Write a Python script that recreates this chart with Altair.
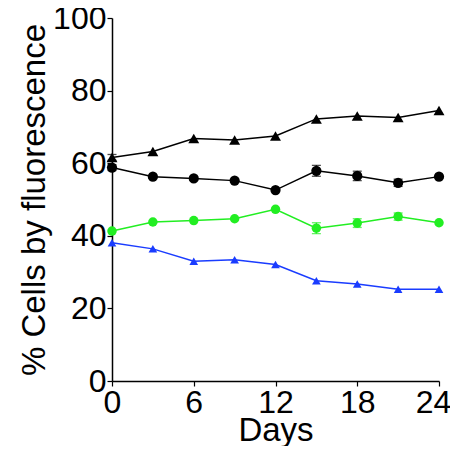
import altair as alt
import pandas as pd

days = [0, 3, 6, 9, 12, 15, 18, 21, 24]
black_tri = [61.6, 63.2, 66.8, 66.4, 67.5, 72.2, 73.0, 72.6, 74.5]
black_tri_err = [0.8, 0, 0, 0, 0, 0, 0, 0, 0]
black_circ = [58.8, 56.3, 55.8, 55.2, 52.6, 57.9, 56.5, 54.6, 56.3]
black_circ_err = [0.8, 0, 0, 0, 0, 1.5, 1.3, 1.0, 0]
green_circ = [41.3, 43.8, 44.2, 44.7, 47.3, 42.1, 43.5, 45.3, 43.6]
green_circ_err = [0, 0, 0, 0, 0, 1.5, 1.2, 1.0, 0]
blue_tri = [38.1, 36.4, 33.0, 33.4, 32.1, 27.6, 26.7, 25.3, 25.3]
blue_tri_err = [0, 0, 0, 0, 0, 0, 0, 0, 0]

series = ["A", "B", "C", "D"]
colors = ["#000000", "#000000", "#22EE22", "#1A3CFF"]
shapes = ["triangle-up", "circle", "circle", "triangle-up"]
sizes = [120, 75, 75, 120]

rows = []
for name, vals, errs in zip(series,
                            [black_tri, black_circ, green_circ, blue_tri],
                            [black_tri_err, black_circ_err, green_circ_err, blue_tri_err]):
    for d, v, e in zip(days, vals, errs):
        rows.append({"series": name, "day": d, "value": v, "err": e,
                     "lo": v - e, "hi": v + e})
df = pd.DataFrame(rows)

axis_style = dict(
    grid=False, domainColor="black", domainWidth=1.5,
    tickColor="black", tickWidth=1.2, tickSize=5,
    labelFont="Liberation Sans", titleFont="Liberation Sans",
    labelFontSize=32, titleFontSize=33,
    labelColor="black", titleColor="black",
    titleFontWeight="normal", labelPadding=1,
)

x = alt.X("day:Q", title="Days",
          scale=alt.Scale(domain=[0, 24], nice=False),
          axis=alt.Axis(values=[0, 6, 12, 18, 24], labelFlush=False,
                        labelOffset=alt.condition("datum.value == 24", alt.value(-6), alt.value(0)),
                        titlePadding=-4, **axis_style))
y = alt.Y("value:Q", title="% Cells by fluorescence",
          scale=alt.Scale(domain=[0, 100], nice=False),
          axis=alt.Axis(values=[0, 20, 40, 60, 80, 100], titlePadding=1, **axis_style))
color = alt.Color("series:N", scale=alt.Scale(domain=series, range=colors), legend=None)
shape = alt.Shape("series:N", scale=alt.Scale(domain=series, range=shapes), legend=None)
size = alt.Size("series:N", scale=alt.Scale(domain=series, range=sizes), legend=None)

base = alt.Chart(df)
lines = base.mark_line(strokeWidth=1.5).encode(x=x, y=y, color=color, detail="series:N")
errs = base.transform_filter("datum.err > 0").mark_rule(strokeWidth=1.3).encode(
    x="day:Q", y="lo:Q", y2="hi:Q", color=color)
cap_lo = base.transform_filter("datum.err > 0").mark_tick(
    orient="horizontal", size=9, thickness=1.3).encode(x="day:Q", y="lo:Q", color=color)
cap_hi = base.transform_filter("datum.err > 0").mark_tick(
    orient="horizontal", size=9, thickness=1.3).encode(x="day:Q", y="hi:Q", color=color)
pts = base.mark_point(filled=True, opacity=1).encode(
    x="day:Q", y="value:Q", color=color, shape=shape, size=size)

chart = alt.layer(lines, errs, cap_lo, cap_hi, pts).properties(
    width=327, height=363,
    autosize=alt.AutoSizeParams(type="none"),
    padding={"left": 104, "top": 10, "right": 11, "bottom": 65},
).configure_view(stroke=None)

chart.save("out.html", embed_options={"renderer": "svg", "actions": False})
